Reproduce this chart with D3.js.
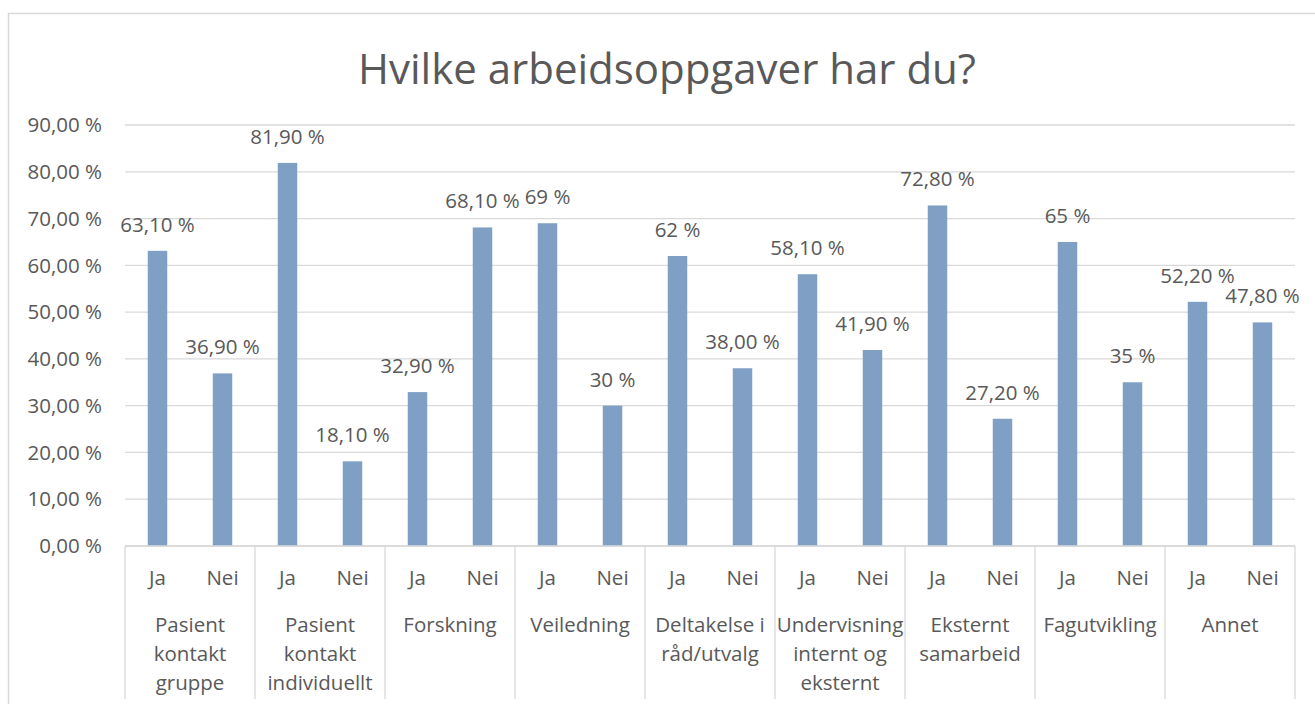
<!DOCTYPE html>
<html>
<head>
<meta charset="utf-8">
<script src="https://cdnjs.cloudflare.com/ajax/libs/d3/7.8.5/d3.min.js"></script>
<style>
  body { margin: 0; background: #fff; }
  text { font-family: "Open Sans", "Noto Sans", sans-serif; fill: #595959; }
</style>
</head>
<body>
<div id="chart"></div>
<script>
// data
var groups = [
  ["Pasient", "kontakt", "gruppe"],
  ["Pasient", "kontakt", "individuellt"],
  ["Forskning"],
  ["Veiledning"],
  ["Deltakelse i", "råd/utvalg"],
  ["Undervisning", "internt og", "eksternt"],
  ["Eksternt", "samarbeid"],
  ["Fagutvikling"],
  ["Annet"]
];
var answers = ["Ja", "Nei"];
var values = [63.1, 36.9, 81.9, 18.1, 32.9, 68.1, 69, 30, 62, 38, 58.1, 41.9, 72.8, 27.2, 65, 35, 52.2, 47.8];
var valueLabels = ["63,10 %", "36,90 %", "81,90 %", "18,10 %", "32,90 %", "68,10 %", "69 %", "30 %", "62 %",
  "38,00 %", "58,10 %", "41,90 %", "72,80 %", "27,20 %", "65 %", "35 %", "52,20 %", "47,80 %"];
var yTicks = [0, 10, 20, 30, 40, 50, 60, 70, 80, 90];

var width = 1315, height = 704;
var margin = {top: 125, right: 20, bottom: 158, left: 125};
var fs = "20.5px";

var svg = d3.select("#chart")
  .append("svg")
  .attr("width", width)
  .attr("height", height);

// outer chart border
svg.append("rect")
  .attr("x", 8.5).attr("y", 13.5)
  .attr("width", 1320).attr("height", 720)
  .attr("fill", "none")
  .attr("stroke", "#d9d9d9")
  .attr("stroke-width", 1.5);

svg.append("text")
  .attr("x", 667).attr("y", 84)
  .attr("text-anchor", "middle")
  .style("font-size", "42px")
  .text("Hvilke arbeidsoppgaver har du?");

var cats = d3.range(values.length);

var x = d3.scaleBand()
  .domain(cats)
  .range([margin.left, width - margin.right])
  .paddingInner(0.7)
  .paddingOuter(0.35);

var y = d3.scaleLinear()
  .domain([0, 90])
  .range([height - margin.bottom, margin.top]);

var g = svg.append("g");

// gridlines
g.selectAll(".grid")
  .data(yTicks)
  .enter()
  .append("line")
  .attr("x1", margin.left).attr("x2", width - margin.right)
  .attr("y1", d => y(d)).attr("y2", d => y(d))
  .attr("stroke", "#d9d9d9")
  .attr("stroke-width", 1.3);

// y tick labels
g.selectAll(".ytick")
  .data(yTicks)
  .enter()
  .append("text")
  .attr("x", 102)
  .attr("y", d => y(d))
  .attr("dy", "0.35em")
  .attr("text-anchor", "end")
  .style("font-size", fs)
  .text(d => d3.format(".2f")(d).replace(".", ",") + " %");

// bars
g.selectAll(".bar")
  .data(values)
  .enter()
  .append("rect")
  .attr("x", (d, i) => x(i))
  .attr("y", d => y(d))
  .attr("width", x.bandwidth())
  .attr("height", d => y(0) - y(d))
  .attr("fill", "#7f9fc5");

// data labels
g.selectAll(".lbl")
  .data(values)
  .enter()
  .append("text")
  .attr("x", (d, i) => x(i) + x.bandwidth() / 2)
  .attr("y", d => y(d) - 19)
  .attr("text-anchor", "middle")
  .style("font-size", fs)
  .text((d, i) => valueLabels[i]);

// category axis, two levels
var step = x.step();
var x0 = margin.left;
var base = y(0);

g.append("line")
  .attr("x1", x0).attr("x2", width - margin.right)
  .attr("y1", base).attr("y2", base)
  .attr("stroke", "#d9d9d9").attr("stroke-width", 1.3);

g.selectAll(".sep")
  .data(d3.range(groups.length + 1))
  .enter()
  .append("line")
  .attr("x1", i => x0 + i * step * 2).attr("x2", i => x0 + i * step * 2)
  .attr("y1", base).attr("y2", 699)
  .attr("stroke", "#d9d9d9").attr("stroke-width", 1.3);

g.selectAll(".ans")
  .data(values)
  .enter()
  .append("text")
  .attr("x", (d, i) => x(i) + x.bandwidth() / 2)
  .attr("y", 585)
  .attr("text-anchor", "middle")
  .style("font-size", fs)
  .text((d, i) => answers[i % 2]);

var grp = g.selectAll(".grp")
  .data(groups)
  .enter()
  .append("text")
  .attr("x", (d, i) => x0 + (i * 2 + 1) * step)
  .attr("text-anchor", "middle")
  .style("font-size", fs);

grp.selectAll("tspan")
  .data(d => d)
  .enter()
  .append("tspan")
  .attr("x", function() { return d3.select(this.parentNode).attr("x"); })
  .attr("y", (d, j) => 632 + j * 29)
  .text(d => d);
</script>
</body>
</html>
